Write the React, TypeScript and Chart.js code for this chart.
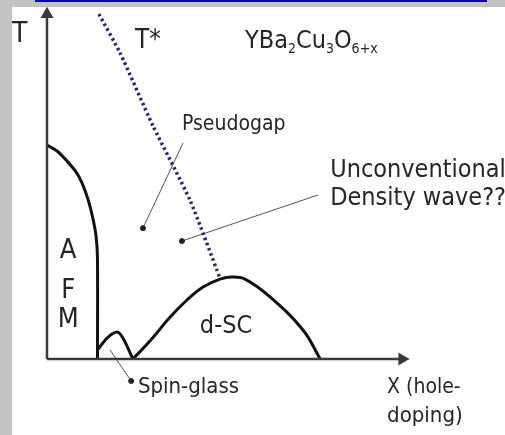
import React, { useEffect, useRef } from "react";
import { Chart, registerables } from "chart.js";

Chart.register(...registerables);

// Schematic phase diagram of YBa2Cu3O6+x (arbitrary units: doping 0..100, T 0..100)
const afmCurve = [
  { x: 0, y: 61.3 }, { x: 2.8, y: 59.6 }, { x: 5.6, y: 56.7 }, { x: 8.1, y: 53.6 },
  { x: 9.8, y: 50.4 }, { x: 11.5, y: 45.6 }, { x: 12.8, y: 40.4 }, { x: 13.7, y: 35.2 },
  { x: 14.1, y: 28.9 }, { x: 14.1, y: 0 },
];
const spinGlassCurve = [
  { x: 14.1, y: 2.6 }, { x: 16.8, y: 6.0 }, { x: 19.6, y: 7.7 }, { x: 21.2, y: 6.0 }, { x: 24.0, y: 0 },
];
const dscDome = [
  { x: 24.0, y: 0 }, { x: 28.8, y: 5.2 }, { x: 34.4, y: 12.0 }, { x: 39.1, y: 16.9 },
  { x: 43.6, y: 20.6 }, { x: 48.3, y: 22.9 }, { x: 51.7, y: 23.5 }, { x: 55.3, y: 22.9 },
  { x: 62.3, y: 17.8 }, { x: 71.5, y: 8.3 }, { x: 76.3, y: 0 },
];
const tStarLine = [
  { x: 14.5, y: 98.8 }, { x: 20.4, y: 87.7 }, { x: 29.6, y: 66.8 }, { x: 39.9, y: 45.6 }, { x: 48.3, y: 23.2 },
];
const yAxisLine = [{ x: 0, y: 0 }, { x: 0, y: 98.8 }];
const xAxisLine = [{ x: 0, y: 0 }, { x: 99.2, y: 0 }];
const pseudogapPointer = [{ x: 38.0, y: 61.9 }, { x: 26.8, y: 37.5 }];
const densityWavePointer = [{ x: 75.7, y: 47.0 }, { x: 37.7, y: 33.8 }];
const spinGlassPointer = [{ x: 17.6, y: 2.6 }, { x: 23.5, y: -6.3 }];

const FONT = '"DejaVu Sans Condensed", "DejaVu Sans", sans-serif';
const INK = "#262626";

type Run = { t: string; sub?: boolean };
type Label = { runs: Run[]; x: number; y: number; size: number; align?: CanvasTextAlign };

const labels: Label[] = [
  { runs: [{ t: "T" }], x: -9.8, y: 90.8, size: 28 },
  { runs: [{ t: "T*" }], x: 24.6, y: 89.1, size: 26 },
  {
    runs: [{ t: "YBa" }, { t: "2", sub: true }, { t: "Cu" }, { t: "3", sub: true }, { t: "O" }, { t: "6+x", sub: true }],
    x: 55.3, y: 89.1, size: 25,
  },
  { runs: [{ t: "Pseudogap" }], x: 37.7, y: 65.6, size: 21 },
  { runs: [{ t: "Unconventional" }], x: 79.1, y: 52.1, size: 25 },
  { runs: [{ t: "Density wave??" }], x: 79.1, y: 44.1, size: 25 },
  { runs: [{ t: "A" }], x: 5.9, y: 28.9, size: 27, align: "center" },
  { runs: [{ t: "F" }], x: 5.9, y: 17.5, size: 27, align: "center" },
  { runs: [{ t: "M" }], x: 5.9, y: 9.2, size: 27, align: "center" },
  { runs: [{ t: "d-SC" }], x: 42.7, y: 7.4, size: 25 },
  { runs: [{ t: "Spin-glass" }], x: 25.4, y: -9.7, size: 22 },
  { runs: [{ t: "X (hole-" }], x: 95.0, y: -9.7, size: 21 },
  { runs: [{ t: "doping)" }], x: 95.0, y: -18.1, size: 22 },
];

const labelPlugin = {
  id: "phaseLabels",
  afterDatasetsDraw(chart: any) {
    const { ctx, scales } = chart;
    ctx.save();
    ctx.fillStyle = INK;
    ctx.textBaseline = "alphabetic";
    for (const lb of labels) {
      let px = scales.x.getPixelForValue(lb.x);
      const py = scales.y.getPixelForValue(lb.y);
      if (lb.align === "center") {
        ctx.font = `${lb.size}px ${FONT}`;
        const w = ctx.measureText(lb.runs.map((r) => r.t).join("")).width;
        px -= w / 2;
      }
      ctx.textAlign = "left";
      for (const r of lb.runs) {
        const s = r.sub ? Math.round(lb.size * 0.55) : lb.size;
        ctx.font = `${s}px ${FONT}`;
        ctx.fillText(r.t, px, py + (r.sub ? lb.size * 0.18 : 0));
        px += ctx.measureText(r.t).width;
      }
    }
    ctx.restore();
  },
};

export default function App() {
  const ref = useRef<HTMLCanvasElement | null>(null);

  useEffect(() => {
    if (!ref.current) return;
    const line = (data: any[], extra: any) => ({
      data,
      showLine: true,
      fill: false,
      pointRadius: 0,
      ...extra,
    });
    const chart = new Chart(ref.current, {
      type: "scatter",
      data: {
        datasets: [
          line(yAxisLine, {
            borderColor: "#3a3a3a", borderWidth: 2.5,
            pointRadius: [0, 5], pointStyle: "triangle", pointRotation: [0, 0],
            pointBackgroundColor: "#3a3a3a", pointBorderColor: "#3a3a3a",
          }),
          line(xAxisLine, {
            borderColor: "#3a3a3a", borderWidth: 2.5,
            pointRadius: [0, 5], pointStyle: "triangle", pointRotation: [0, 90],
            pointBackgroundColor: "#3a3a3a", pointBorderColor: "#3a3a3a",
          }),
          line(afmCurve, { borderColor: "#111", borderWidth: 3, tension: 0.3 }),
          line(spinGlassCurve, { borderColor: "#111", borderWidth: 3, tension: 0.3 }),
          line(dscDome, { borderColor: "#111", borderWidth: 3, tension: 0.4 }),
          line(tStarLine, {
            borderColor: "#24246e", borderWidth: 3.5, borderDash: [2.5, 3], tension: 0.2,
          }),
          line(pseudogapPointer, {
            borderColor: "#555", borderWidth: 1,
            pointRadius: [0, 2.5], pointBackgroundColor: "#222", pointBorderColor: "#222",
          }),
          line(densityWavePointer, {
            borderColor: "#555", borderWidth: 1,
            pointRadius: [0, 2.5], pointBackgroundColor: "#222", pointBorderColor: "#222",
          }),
          line(spinGlassPointer, {
            borderColor: "#555", borderWidth: 1,
            pointRadius: [0, 2.5], pointBackgroundColor: "#222", pointBorderColor: "#222",
          }),
        ],
      },
      options: {
        responsive: false,
        animation: false,
        devicePixelRatio: 1,
        layout: { padding: 0, autoPadding: false },
        scales: {
          x: { type: "linear", display: false, min: -13.128, max: 127.93 },
          y: { type: "linear", display: false, min: -21.78, max: 102.87 },
        },
        plugins: { legend: { display: false }, tooltip: { enabled: false } },
      },
      plugins: [labelPlugin],
    });
    return () => chart.destroy();
  }, []);

  return (
    <div style={{ position: "fixed", left: 0, top: 0, width: 505, height: 435, background: "#c3c3c3", overflow: "hidden" }}>
      <div style={{ position: "absolute", left: 12, top: 7, right: 0, bottom: 0, background: "#fff" }} />
      <div style={{ position: "absolute", left: 35, top: 0, width: 452, height: 2, background: "#0000c0" }} />
      <canvas ref={ref} width={505} height={435} style={{ position: "absolute", left: 0, top: 0, width: 505, height: 435 }} />
    </div>
  );
}
